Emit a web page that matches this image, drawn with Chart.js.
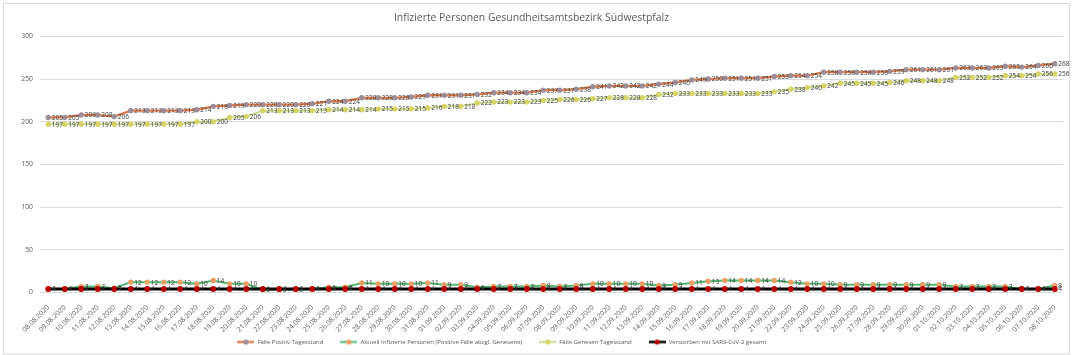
<!DOCTYPE html>
<html><head><meta charset="utf-8">
<script src="https://cdn.jsdelivr.net/npm/chart.js@4.4.0/dist/chart.umd.min.js"></script>
<style>html,body{margin:0;padding:0;background:#fff;}#wrap{width:1073px;height:355px;}</style>
</head><body><div id="wrap"><canvas id="c" width="1073" height="355"></canvas></div>
<script>
const dates = ["08.08.2020","09.08.2020","10.08.2020","11.08.2020","12.08.2020","13.08.2020","14.08.2020","15.08.2020","16.08.2020","17.08.2020","18.08.2020","19.08.2020","20.08.2020","21.08.2020","22.08.2020","23.08.2020","24.08.2020","25.08.2020","26.08.2020","27.08.2020","28.08.2020","29.08.2020","30.08.2020","31.08.2020",
"01.09.2020","02.09.2020","03.09.2020","04.09.2020","05.09.2020","06.09.2020","07.09.2020","08.09.2020","09.09.2020","10.09.2020","11.09.2020","12.09.2020","13.09.2020","14.09.2020","15.09.2020","16.09.2020","17.09.2020","18.09.2020","19.09.2020","20.09.2020","21.09.2020","22.09.2020","23.09.2020","24.09.2020","25.09.2020","26.09.2020","27.09.2020","28.09.2020","29.09.2020","30.09.2020",
"01.10.2020","02.10.2020","03.10.2020","04.10.2020","05.10.2020","06.10.2020","07.10.2020","08.10.2020"];
const positiv = [205,205,208,208,206,213,213,213,213,214,218,219,220,220,220,220,221,224,224,228,228,228,229,231,231,231,232,234,234,234,237,237,238,241,242,242,242,244,246,249,250,251,251,251,253,254,254,258,258,258,258,259,261,261,261,263,263,263,265,264,266,268];
const aktuell = [4,4,7,7,5,12,12,12,12,10,14,10,10,3,3,3,4,6,6,11,10,10,10,11,9,9,6,7,7,7,8,7,8,10,10,10,10,8,9,11,13,14,14,14,14,12,10,10,9,9,9,9,9,9,9,7,7,7,7,4,4,8];
const genesen = [197,197,197,197,197,197,197,197,197,200,200,205,206,213,213,213,213,214,214,214,215,215,215,216,218,218,222,223,223,223,225,226,226,227,228,228,228,232,233,233,233,233,233,233,235,238,240,242,245,245,245,246,248,248,248,252,252,252,254,254,256,256];
const verstorben = [4,4,4,4,4,4,4,4,4,4,4,4,4,4,4,4,4,4,4,4,4,4,4,4,4,4,4,4,4,4,4,4,4,4,4,4,4,4,4,4,4,4,4,4,4,4,4,4,4,4,4,4,4,4,4,4,4,4,4,4,4,4];
const seriesNames = ["Fälle Positiv Tagesstand","Aktuell Infizierte Personen (Positive Fälle abzgl. Genesene)","Fälle Genesen Tagesstand","Verstorben mit SARS-CoV-2 gesamt"];
const chartTitle = "Infizierte Personen Gesundheitsamtsbezirk Südwestpfalz";

const FONT = '"Open Sans", "DejaVu Sans", sans-serif';
const styles = [
  {line:'#DB7B4E', marker:'#9E8C99', lw:2.3, r:2.7},
  {line:'#4FB670', marker:'#EDA066', lw:2, r:2.7},
  {line:'#C9DB8E', marker:'#D6D468', lw:2, r:2.7},
  {line:'#000000', marker:'#B40000', lw:3, r:2.9}
];
function icon(s){
  const c=document.createElement('canvas'); c.width=17; c.height=7;
  const x=c.getContext('2d');
  x.strokeStyle=s.line; x.lineWidth=Math.min(s.lw,2.5); x.beginPath(); x.moveTo(0,3.5); x.lineTo(17,3.5); x.stroke();
  x.fillStyle=s.marker; x.beginPath(); x.arc(8.5,3.5,2.6,0,Math.PI*2); x.fill();
  return c;
}
const icons = styles.map(icon);
const seriesData = [positiv, aktuell, genesen, verstorben];
const datasets = seriesData.map((d,i)=>({
  label: seriesNames[i], data: d,
  borderColor: styles[i].line, borderWidth: styles[i].lw,
  pointBackgroundColor: styles[i].marker, pointBorderColor: styles[i].marker,
  pointRadius: styles[i].r, pointBorderWidth: 0, pointHoverRadius: styles[i].r,
  tension: 0, fill: false, order: 3-i
}));

const frame = {id:'frame', beforeDraw(chart){const c=chart.ctx; c.save(); c.fillStyle='#fff'; c.fillRect(0,0,chart.width,chart.height); c.strokeStyle='#D9D9D9'; c.lineWidth=1; c.strokeRect(3.5,3.5,chart.width-7,chart.height-4.5); c.restore();}};
const pointLabels = {id:'pointLabels', afterDatasetsDraw(chart){
  const c=chart.ctx; c.save(); c.font='6.5px '+FONT; c.fillStyle='#3A3A3A'; c.textBaseline='middle'; c.textAlign='left';
  chart.data.datasets.forEach((ds,i)=>{ const meta=chart.getDatasetMeta(i);
    meta.data.forEach((pt,j)=>{ c.fillText(String(ds.data[j]), pt.x+3.5, pt.y+0.5); }); });
  c.restore(); }};
const legendShift = {id:'legendShift', afterLayout(chart){
  const lg=chart.legend; if(lg){ lg.left=0; lg.right=1004; lg.width=1004; }
  const xs=chart.scales.x; if(xs){ xs.bottom=chart.height; } }};

new Chart(document.getElementById('c'), {
  type:'line',
  data:{labels:dates, datasets},
  options:{
    responsive:false, animation:false, devicePixelRatio:1,
    layout:{padding:{left:0,right:10,top:0,bottom:0}},
    plugins:{
      title:{display:true, text:chartTitle, color:'#595959', font:{family:FONT,size:10.4,weight:'normal'}, padding:{top:11.5,bottom:12.4}},
      legend:{display:true, position:'bottom', labels:{usePointStyle:true, pointStyleWidth:17, padding:17, color:'#595959', font:{family:FONT,size:6},
        generateLabels:(chart)=>chart.data.datasets.map((ds,i)=>({text:ds.label, pointStyle:icons[i], fillStyle:'rgba(0,0,0,0)', strokeStyle:'rgba(0,0,0,0)', lineWidth:0, hidden:false, datasetIndex:i, fontColor:'#595959'}))}},
      tooltip:{enabled:false}
    },
    scales:{
      x:{offset:true, grid:{display:false}, border:{display:false},
        ticks:{autoSkip:false, maxRotation:45, minRotation:45, color:'#595959', font:{family:FONT,size:6.8}, padding:3},
        afterFit:(s)=>{s.height=29.6;}},
      y:{min:0, max:300, grid:{color:'#D9D9D9', drawTicks:false}, border:{display:false},
        ticks:{stepSize:50, color:'#595959', font:{family:FONT,size:6.8}, padding:7},
        afterFit:(s)=>{s.width=40;}}
    }
  },
  plugins:[frame, pointLabels, legendShift]
});
</script></body></html>
